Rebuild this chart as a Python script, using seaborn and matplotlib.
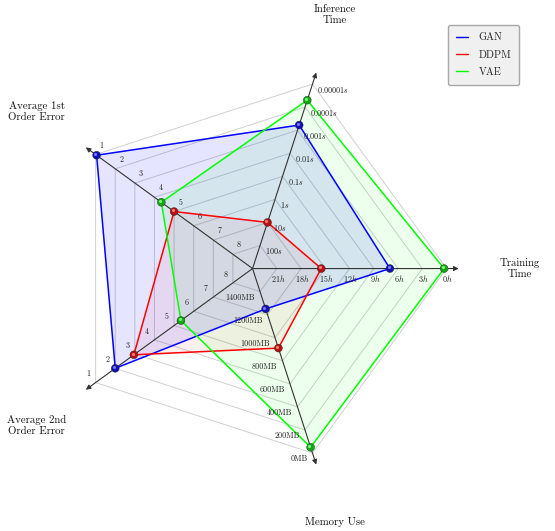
import numpy as np
import pandas as pd
import seaborn as sns
import matplotlib.pyplot as plt
from matplotlib.lines import Line2D
from matplotlib.transforms import ScaledTranslation

sns.set_style("white")
plt.rcParams["font.family"] = "cmr10"
plt.rcParams["mathtext.fontset"] = "cm"
plt.rcParams["axes.unicode_minus"] = False

# --- data ---
models = ["GAN", "DDPM", "VAE"]
training_time_h = [7.0, 15.5, 0.3]
inference_time_s = [6e-4, 10.0, 5e-5]
avg_1st_error = [1.05, 5.0, 4.35]
avg_2nd_error = [2.0, 2.95, 5.35]
memory_mb = [1250, 910, 50]

axis_names = ["Training\nTime", "Inference\nTime", "Average 1st\nOrder Error",
              "Average 2nd\nOrder Error", "Memory Use"]
train_ticks = ["21h", "18h", "15h", "12h", "9h", "6h", "3h", "0h"]
inference_ticks = ["100s", "10s", "1s", "0.1s", "0.01s", "0.001s", "0.0001s", "0.00001s"]
error_ticks = ["8", "7", "6", "5", "4", "3", "2", "1"]
memory_ticks = ["1400MB", "1200MB", "1000MB", "800MB", "600MB", "400MB", "200MB", "0MB"]

line_colors = ["#0000ff", "#ff0000", "#00ff00"]
fill_alpha = [0.1, 0.06, 0.07]
ball_colors = ["#1010b8", "#b81010", "#10a810"]
shine_colors = ["#7878ff", "#ff7878", "#78ff78"]

# every axis is drawn on 8 rings (ring 8 = best value)
def rings(i):
    return [(24 - training_time_h[i]) / 3,
            3 - np.log10(inference_time_s[i]),
            9 - avg_1st_error[i],
            9 - avg_2nd_error[i],
            (1600 - memory_mb[i]) / 200]

angles = np.deg2rad([0, 72, 144, 216, 288])
closed = np.append(angles, 2 * np.pi)

rows = []
for i, m in enumerate(models):
    r = rings(i)
    for th, rv in zip(closed, r + [r[0]]):
        rows.append({"model": m, "theta": th, "r": rv})
df = pd.DataFrame(rows)
pts = df[df["theta"] < 2 * np.pi]

fig = plt.figure(figsize=(5.55, 5.31), dpi=100)
ax = fig.add_axes([34.3 / 555, 44.2 / 531, 436.5 / 555, 436.5 / 531], projection="polar")
ax.set_ylim(0, 9)
ax.set_axis_off()

# grid pentagons
for k in range(1, 9):
    ax.plot(closed, [k] * 6, color="#d0d0d0", lw=0.7, zorder=1)

# fills (blue on top)
for i in [1, 2, 0]:
    d = df[df["model"] == models[i]]
    ax.fill(d["theta"], d["r"], color=line_colors[i], alpha=fill_alpha[i], lw=0, zorder=1.5)

# axes with arrows
for th in angles:
    ax.annotate("", xy=(th, 8.5), xytext=(th, 0),
                arrowprops=dict(arrowstyle="-|>", color="#333333", lw=0.8,
                                mutation_scale=7, shrinkA=0, shrinkB=0), zorder=2)

sns.lineplot(data=df, x="theta", y="r", hue="model", palette=dict(zip(models, line_colors)),
             sort=False, estimator=None, legend=False, lw=1.1, ax=ax, zorder=3)
sns.scatterplot(data=pts, x="theta", y="r", hue="model", palette=dict(zip(models, ball_colors)),
                s=32, edgecolor="#202020", linewidth=0.3, legend=False, ax=ax, zorder=4)
shine = ax.transData + ScaledTranslation(-1.2 / 100, 1.2 / 100, fig.dpi_scale_trans)
for i, m in enumerate(models):
    d = pts[pts["model"] == m]
    ax.scatter(d["theta"], d["r"], s=5, color=shine_colors[i], lw=0, transform=shine, zorder=5)

# tick labels
tick_sets = [
    ([f"${t}$" for t in train_ticks], "center", "top", (1, -4)),
    ([f"${t}$" for t in inference_ticks], "left", "center", (5, -6)),
    (error_ticks, "center", "center", (6, 9)),
    (error_ticks, "center", "center", (-7.5, 8.5)),
    (memory_ticks, "right", "center", (-5, -6)),
]
for th, (labels, ha, va, off) in zip(angles, tick_sets):
    for k, lab in enumerate(labels, start=1):
        ax.annotate(lab, xy=(th, k), xytext=off, textcoords="offset pixels",
                    ha=ha, va=va, fontsize=5.8, color="#222222", zorder=6)

for th, name in zip(angles, axis_names):
    ax.text(th, 11, name, ha="center", va="center", multialignment="center",
            fontsize=7.8, color="#111111")

handles = [Line2D([], [], color=c, lw=1.0) for c in line_colors]
fig.legend(handles, models, loc="upper right", bbox_to_anchor=(519.3 / 555, 1 - 25 / 531),
           borderaxespad=0, fontsize=7.5, frameon=True, fancybox=True, facecolor="#f0f0f0",
           edgecolor="#a8a8a8", framealpha=1, handlelength=1.2, handletextpad=1.0,
           labelspacing=0.75, borderpad=0.75)

fig.savefig("out.png", dpi=100)
